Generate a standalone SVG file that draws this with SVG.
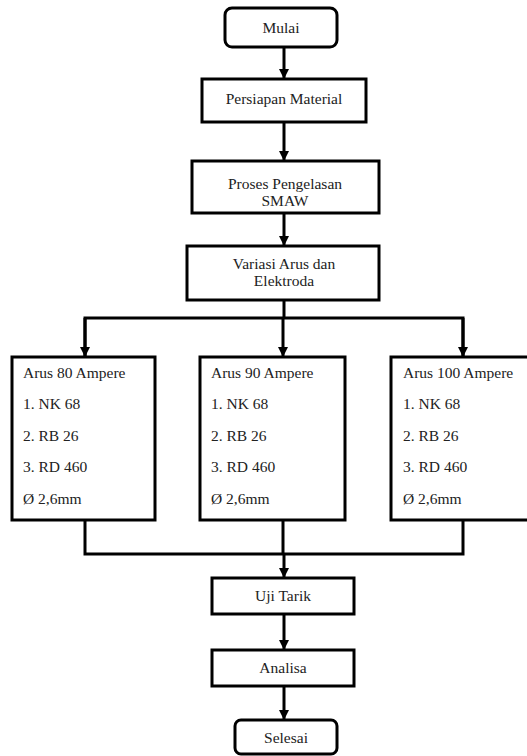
<svg xmlns="http://www.w3.org/2000/svg" width="527" height="756" viewBox="0 0 527 756">
<style>
.box{fill:#fff;stroke:#000;stroke-width:3}
.t{font-family:'Liberation Serif','Times New Roman','DejaVu Serif',serif;font-size:15.5px;fill:#222}
.c{text-anchor:middle}
.ln{fill:none;stroke:#000;stroke-width:3}
</style>
<defs>
<marker id="ah" markerWidth="10" markerHeight="10" viewBox="0 0 10 10" refX="10" refY="5" orient="auto" markerUnits="userSpaceOnUse">
<path d="M0,0 L10,5 L0,10 Z" fill="#000"/>
</marker>
</defs>
<rect width="527" height="756" fill="#fff"/>
<g id="connectors">
<path class="ln" d="M284,47 V79" marker-end="url(#ah)"/>
<path class="ln" d="M284,122 V161" marker-end="url(#ah)"/>
<path class="ln" d="M284,213 V246" marker-end="url(#ah)"/>
<path class="ln" d="M284,300 V318"/>
<path class="ln" d="M85,357 V318 H463 V357"/>
<path class="ln" d="M85,318 V357" marker-end="url(#ah)"/>
<path class="ln" d="M283,318 V357" marker-end="url(#ah)"/>
<path class="ln" d="M463,318 V357" marker-end="url(#ah)"/>
<path class="ln" d="M85,520 V554 H463 V520"/>
<path class="ln" d="M283,520 V554"/>
<path class="ln" d="M284,554 V578" marker-end="url(#ah)"/>
<path class="ln" d="M284,614 V650" marker-end="url(#ah)"/>
<path class="ln" d="M284,686 V720" marker-end="url(#ah)"/>
</g>
<g id="mulai">
<rect class="box" x="225" y="8" width="112" height="39" rx="7"/>
<text class="t c" x="281" y="33">Mulai</text>
</g>
<g id="persiapan">
<rect class="box" x="202" y="79" width="164" height="43"/>
<text class="t c" x="284" y="104">Persiapan Material</text>
</g>
<g id="proses">
<rect class="box" x="192" y="161" width="187" height="52"/>
<text class="t c" x="285" y="189">Proses Pengelasan</text>
<text class="t c" x="285" y="206">SMAW</text>
</g>
<g id="variasi">
<rect class="box" x="187" y="246" width="192" height="54"/>
<text class="t c" x="284" y="269">Variasi Arus dan</text>
<text class="t c" x="284" y="286">Elektroda</text>
</g>
<g id="arus80">
<rect class="box" x="12" y="357" width="143" height="163"/>
<text class="t" x="23" y="378">Arus 80 Ampere</text>
<text class="t" x="23" y="409">1. NK 68</text>
<text class="t" x="23" y="441">2. RB 26</text>
<text class="t" x="23" y="472">3. RD 460</text>
<text class="t" x="23" y="504">Ø 2,6mm</text>
</g>
<g id="arus90">
<rect class="box" x="200" y="357" width="145" height="163"/>
<text class="t" x="211" y="378">Arus 90 Ampere</text>
<text class="t" x="211" y="409">1. NK 68</text>
<text class="t" x="211" y="441">2. RB 26</text>
<text class="t" x="211" y="472">3. RD 460</text>
<text class="t" x="211" y="504">Ø 2,6mm</text>
</g>
<g id="arus100">
<rect class="box" x="391" y="357" width="139" height="163"/>
<text class="t" x="403" y="378">Arus 100 Ampere</text>
<text class="t" x="403" y="409">1. NK 68</text>
<text class="t" x="403" y="441">2. RB 26</text>
<text class="t" x="403" y="472">3. RD 460</text>
<text class="t" x="403" y="504">Ø 2,6mm</text>
</g>
<g id="ujitarik">
<rect class="box" x="212" y="578" width="142" height="36"/>
<text class="t c" x="283" y="601">Uji Tarik</text>
</g>
<g id="analisa">
<rect class="box" x="212" y="650" width="142" height="36"/>
<text class="t c" x="283" y="673">Analisa</text>
</g>
<g id="selesai">
<rect class="box" x="235" y="720" width="102" height="34" rx="6"/>
<text class="t c" x="286" y="743">Selesai</text>
</g>
</svg>
